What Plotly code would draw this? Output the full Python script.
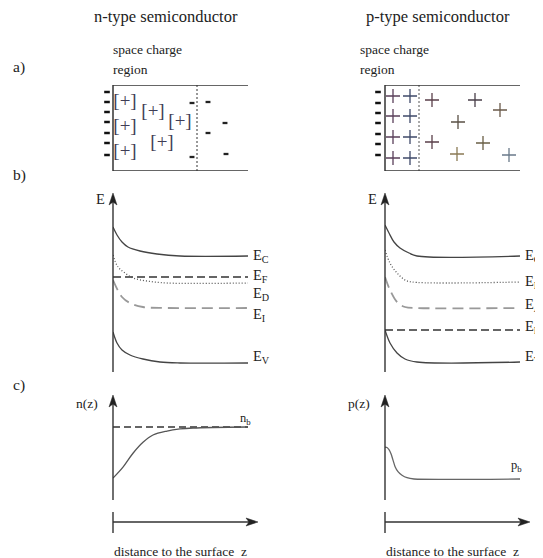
import plotly.graph_objects as go

# The page body has an 8px margin: lay out in reference pixels, shifted by it.
PAGE_MARGIN = 8
W, H = 543 - PAGE_MARGIN, 558 - PAGE_MARGIN
FONT = "Liberation Serif"
INK = "#222222"

# ---------------- data ----------------
titles = ["n-type semiconductor", "p-type semiconductor"]
panel_tags = ["a)", "b)", "c)"]

# a) charge sketches, box coordinates (depth from surface, depth below top edge)
n_surface_minus_y = [7, 17, 27, 37, 48, 58, 70]
n_donor_x = [12, 12, 12, 40, 67, 49]
n_donor_y = [17, 42, 67, 27, 37, 58]
n_electron_x = [79, 79, 95, 112, 95, 113]
n_electron_y = [18, 72, 17, 38, 48, 69]
n_scr_width = 84

p_surface_minus_y = [7, 18, 28, 38, 49, 59, 70]
p_acceptor_x = [8, 25, 8, 25, 8, 25, 8, 25, 47, 90, 115, 73, 47, 98, 72, 124]
p_acceptor_y = [11, 11, 31, 31, 52, 52, 73, 73, 15, 15, 25, 37, 57, 58, 69, 70]
p_scr_width = 34

# b) band diagrams (z = distance to surface, E = energy, arbitrary units)
n_zC = [0, 4, 9, 15, 27, 44, 67, 135]
n_EC = [145, 137, 130, 125, 121, 118, 116, 116]
n_zD = [0, 5, 12, 20, 34, 54, 135]
n_ED = [117, 105, 99, 94, 91, 89, 89]
n_zI = [0, 9, 17, 30, 54, 135]
n_EI = [92, 75, 69, 65, 64, 64]
n_zV = [0, 4, 9, 17, 30, 47, 67, 135]
n_EV = [40, 29, 22, 17, 13, 10, 9, 9]
n_EF = 95

p_zC = [0, 4, 9, 15, 24, 32, 135]
p_EC = [147, 139, 130, 124, 119, 116, 116]
p_zI = [0, 5, 12, 20, 27, 135]
p_EI = [122, 109, 99, 92, 90, 90]
p_zA = [0, 5, 12, 20, 32, 135]
p_EA = [95, 82, 70, 65, 64, 64]
p_zV = [0, 5, 12, 20, 32, 135]
p_EV = [42, 29, 19, 13, 10, 10]
p_EF = 42

n_levels = ["E<sub>C</sub>", "E<sub>F</sub>", "E<sub>D</sub>", "E<sub>I</sub>", "E<sub>V</sub>"]
p_levels = ["E<sub>C</sub>", "E<sub>I</sub>", "E<sub>A</sub>", "E<sub>F</sub>", "E<sub>V</sub>"]

# c) carrier densities relative to bulk value
n_z = [0, 10, 20, 30, 40, 54, 67, 80, 135]
n_rel = [0.30, 0.45, 0.64, 0.79, 0.89, 0.945, 0.973, 0.986, 1.0]
p_z = [0, 2, 4, 6, 8, 10, 13, 17, 22, 29, 135]
p_rel = [2.52, 2.50, 2.40, 2.20, 1.90, 1.60, 1.35, 1.18, 1.06, 1.0, 1.0]

# ---------------- helpers ----------------
def PX(x):
    return (x - PAGE_MARGIN) / W

def PY(y):
    return 1 - (y - PAGE_MARGIN) / H

def xdom(a, b):
    return [PX(a), PX(b)]

def ydom(top, bot):
    return [PY(bot), PY(top)]

fig = go.Figure()

def line(xs, ys, xa, ya, color="#444", width=1.3, dash="solid", shape="spline", smoothing=1.0):
    fig.add_trace(go.Scatter(x=xs, y=ys, xaxis=xa, yaxis=ya, mode="lines",
                             line=dict(color=color, width=width, dash=dash, shape=shape,
                                       smoothing=smoothing),
                             hoverinfo="skip", showlegend=False))

# ---- a) n-type box ----
fig.add_trace(go.Scatter(x=[-6] * len(n_surface_minus_y), y=n_surface_minus_y, xaxis="x", yaxis="y",
                         mode="markers", showlegend=False,
                         marker=dict(symbol="line-ew", size=4, line=dict(width=2.5, color="#111"))))
fig.add_trace(go.Scatter(x=n_electron_x, y=n_electron_y, xaxis="x", yaxis="y",
                         mode="markers", showlegend=False,
                         marker=dict(symbol="line-ew", size=3.5, line=dict(width=2.3, color="#222"))))
fig.add_trace(go.Scatter(x=n_donor_x, y=n_donor_y, xaxis="x", yaxis="y", mode="text",
                         text=["[+]"] * len(n_donor_x), showlegend=False,
                         textfont=dict(family=FONT, size=19, color="#3f3d55")))
line([n_scr_width, n_scr_width], [0, 86], "x", "y", color="#333", width=1, dash="2px,2px", shape="linear")

# ---- a) p-type box ----
fig.add_trace(go.Scatter(x=[-7] * len(p_surface_minus_y), y=p_surface_minus_y, xaxis="x2", yaxis="y2",
                         mode="markers", showlegend=False,
                         marker=dict(symbol="line-ew", size=4, line=dict(width=2.5, color="#111"))))
plus_colors = ["#5a3f5a", "#3f4a6a"] * 4 + ["#5a3f4a", "#4a3f4a", "#6a5a4a", "#5a5045",
                                             "#5a3f4a", "#6a5f45", "#8a7a55", "#6a7a8a"]
fig.add_trace(go.Scatter(x=p_acceptor_x, y=p_acceptor_y, xaxis="x2", yaxis="y2",
                         mode="markers", showlegend=False,
                         marker=dict(symbol="cross-thin", size=10, line=dict(width=1.3, color=plus_colors))))
line([p_scr_width, p_scr_width], [0, 86], "x2", "y2", color="#555", width=1, dash="2px,2px", shape="linear")

# ---- b) band diagrams ----
line(n_zC, n_EC, "x3", "y3")
line([0, 135], [n_EF, n_EF], "x3", "y3", color="#333", width=1.6, dash="8px,4px", shape="linear")
line(n_zD, n_ED, "x3", "y3", color="#555", width=1.3, dash="1px,2px")
line(n_zI, n_EI, "x3", "y3", color="#999", width=1.8, dash="11px,6px")
line(n_zV, n_EV, "x3", "y3")

line(p_zC, p_EC, "x4", "y4")
line(p_zI, p_EI, "x4", "y4", color="#555", width=1.3, dash="1px,2px")
line(p_zA, p_EA, "x4", "y4", color="#999", width=1.8, dash="11px,6px")
line([0, 135], [p_EF, p_EF], "x4", "y4", color="#333", width=1.6, dash="8px,4px", shape="linear")
line(p_zV, p_EV, "x4", "y4")

# ---- c) densities ----
line([0, 135], [1, 1], "x5", "y5", color="#333", width=1.4, dash="7px,4px", shape="linear")
line(n_z, n_rel, "x5", "y5", color="#555", width=1.3)
line(p_z, p_rel, "x6", "y6", color="#666", width=1.3, smoothing=0.6)

# ---------------- axes ----------------
hidden = dict(showgrid=False, zeroline=False, showticklabels=False, ticks="", showline=False)

fig.update_layout(
    xaxis=dict(hidden, domain=xdom(101, 248), range=[-12, 135], anchor="y"),
    yaxis=dict(hidden, domain=ydom(85, 171), range=[86, 0], anchor="x"),
    xaxis2=dict(hidden, domain=xdom(373, 520), range=[-12, 135], anchor="y2"),
    yaxis2=dict(hidden, domain=ydom(85, 171), range=[86, 0], anchor="x2"),
    xaxis3=dict(hidden, domain=xdom(113, 248), range=[0, 135], anchor="y3"),
    yaxis3=dict(hidden, domain=ydom(193, 372), range=[0, 179], anchor="x3"),
    xaxis4=dict(hidden, domain=xdom(385, 520), range=[0, 135], anchor="y4"),
    yaxis4=dict(hidden, domain=ydom(193, 372), range=[0, 179], anchor="x4"),
    xaxis5=dict(hidden, domain=xdom(113, 248), range=[0, 135], anchor="y5"),
    yaxis5=dict(hidden, domain=ydom(395, 500), range=[0, 105 / 73], anchor="x5"),
    xaxis6=dict(hidden, domain=xdom(385, 520), range=[0, 135], anchor="y6"),
    yaxis6=dict(hidden, domain=ydom(395, 500), range=[0, 5], anchor="x6"),
)

# ---------------- decorations ----------------
shapes = []

# a) boxes: open on the bulk side
for xr, yr in (("x", "y"), ("x2", "y2")):
    for (x0, y0, x1, y1) in ((0, 0, 135, 0), (0, 86, 135, 86), (0, 0, 0, 86)):
        shapes.append(dict(type="line", xref=xr, yref=yr, x0=x0, y0=y0, x1=x1, y1=y1,
                           line=dict(color="#333", width=1.5)))

def seg(x0, y0, x1, y1, w=1.4, color="#333"):
    shapes.append(dict(type="line", xref="paper", yref="paper", x0=PX(x0), y0=PY(y0),
                       x1=PX(x1), y1=PY(y1), line=dict(color=color, width=w)))

def head(pts, color="#222"):
    path = "M " + " L ".join(f"{PX(x):.5f},{PY(y):.5f}" for x, y in pts) + " Z"
    shapes.append(dict(type="path", xref="paper", yref="paper", path=path,
                       fillcolor=color, line=dict(color=color, width=0.5)))

for off in (0, 272):
    x0 = 113 + off
    seg(x0, 372, x0, 202)
    head([(x0 - 4, 205), (x0, 193), (x0 + 4, 205), (x0, 202)])
    seg(x0, 500, x0, 404)
    head([(x0 - 4, 407), (x0, 395), (x0 + 4, 407), (x0, 404)])
    seg(x0, 522, x0 + 137, 522)
    head([(x0 + 133, 518), (x0 + 145, 522), (x0 + 133, 526), (x0 + 136, 522)])
    seg(x0, 512, x0, 533)

annotations = []

def txt(s, x, y, size=13, xanchor="left", yanchor="middle", color=INK):
    annotations.append(dict(text=s, x=PX(x), y=PY(y), xref="paper", yref="paper",
                            showarrow=False, xanchor=xanchor, yanchor=yanchor,
                            font=dict(family=FONT, size=size, color=color)))

txt(titles[0], 166, 17, size=16.5, xanchor="center")
txt(titles[1], 438, 17, size=16.5, xanchor="center")
for tag, y in zip(panel_tags, [67, 175, 385]):
    txt(tag, 11, y, size=15.5)

for xl in (111, 358):
    txt("space charge", xl, 49, size=13.5)
    txt("region", xl, 69, size=13.5)

for off, lab in ((0, "n(z)"), (272, "p(z)")):
    txt("E", 100 + off, 199, size=14.5, xanchor="center")
    txt(lab, 87 + off, 403, size=13.5, xanchor="center")
    txt("distance to the surface\u00a0 z", 112 + off, 551, size=13.5)

for lab, y in zip(n_levels, [256, 276, 294, 315, 357]):
    txt(lab, 251, y, size=14.5)
for lab, y in zip(p_levels, [256, 282, 305, 327, 357]):
    txt(lab, 523, y, size=14.5)

txt("n<sub>b</sub>", 245, 419, size=12.5, xanchor="center")
txt("p<sub>b</sub>", 516, 466, size=12.5, xanchor="center")

fig.update_layout(
    width=W, height=H,
    margin=dict(l=0, r=0, t=0, b=0),
    paper_bgcolor="white", plot_bgcolor="rgba(0,0,0,0)",
    showlegend=False,
    shapes=shapes, annotations=annotations,
    font=dict(family=FONT, color=INK),
)

fig.write_html("out.html")
